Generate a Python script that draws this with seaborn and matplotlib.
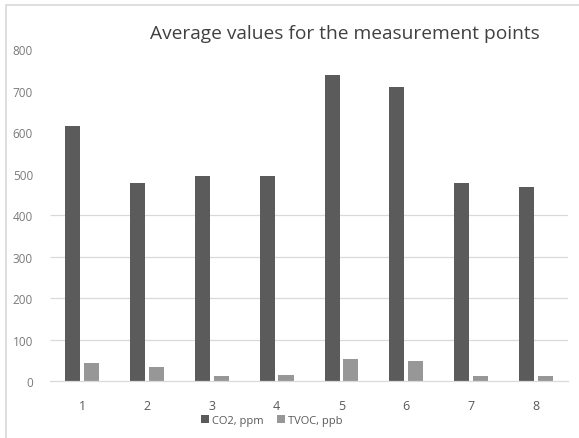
import matplotlib
matplotlib.use("Agg")
import matplotlib.pyplot as plt
from matplotlib.patches import Rectangle
import pandas as pd
import seaborn as sns

# Measurement points and the averaged readings at each point
points = ["1", "2", "3", "4", "5", "6", "7", "8"]
co2_ppm = [615, 478, 495, 495, 737, 708, 478, 468]
tvoc_ppb = [43, 33, 11, 14, 52, 48, 11, 11]
series_names = ["CO2, ppm", "TVOC, ppb"]
y_ticks = [0, 100, 200, 300, 400, 500, 600, 700, 800]
grid_levels = [100, 200, 300, 400]

df = pd.DataFrame({
    "point": points * 2,
    "value": co2_ppm + tvoc_ppb,
    "series": [series_names[0]] * len(points) + [series_names[1]] * len(points),
})

sns.set_theme(style="white")
plt.rcParams["font.family"] = ["Open Sans", "DejaVu Sans"]

fig = plt.figure(figsize=(5.79, 4.39), dpi=100)
ax = fig.add_axes([0.0857, 0.1298, 0.896, 0.756])

palette = {series_names[0]: "#5b5b5b", series_names[1]: "#979797"}
sns.barplot(data=df, x="point", y="value", hue="series", order=points,
            hue_order=series_names, palette=palette, width=0.58, gap=0.2,
            saturation=1, ax=ax, legend=True)

for bar in ax.patches:
    bar.set_edgecolor("none")

ax.set_ylim(0, 800)
ax.set_yticks(y_ticks)
ax.set_yticklabels([str(t) for t in y_ticks])
ax.set_xlim(-0.5, len(points) - 0.5)
ax.hlines(grid_levels, -0.5, len(points) - 0.5, colors="#d9d9d9",
          linewidth=0.9, zorder=0)

for side in ["top", "right", "left"]:
    ax.spines[side].set_visible(False)
ax.spines["bottom"].set_color("#d9d9d9")
ax.spines["bottom"].set_linewidth(0.9)

ax.set_xlabel("")
ax.set_ylabel("")
ax.tick_params(axis="x", length=0, pad=13, labelsize=9, labelcolor="#595959")
ax.tick_params(axis="y", length=0, pad=12, labelsize=8.5, labelcolor="#7a7a7a")

fig.text(0.596, 0.923, "Average values for the measurement points",
         ha="center", va="center", fontsize=13.8, color="#404040")

handles, labels = ax.get_legend_handles_labels()
ax.legend(handles, labels, loc="center", bbox_to_anchor=(0.47, 0.041),
          bbox_transform=fig.transFigure, ncol=2, frameon=False,
          fontsize=8, handlelength=0.7, handleheight=0.7,
          handletextpad=0.3, columnspacing=1.2, labelcolor="#595959")

# Light outline around the chart area
fig.patches.append(Rectangle((0.0095, -0.05), 1.1, 1.036, transform=fig.transFigure,
                             fill=False, edgecolor="#d9d9d9", linewidth=1.2))

fig.savefig("out.png", dpi=100)
